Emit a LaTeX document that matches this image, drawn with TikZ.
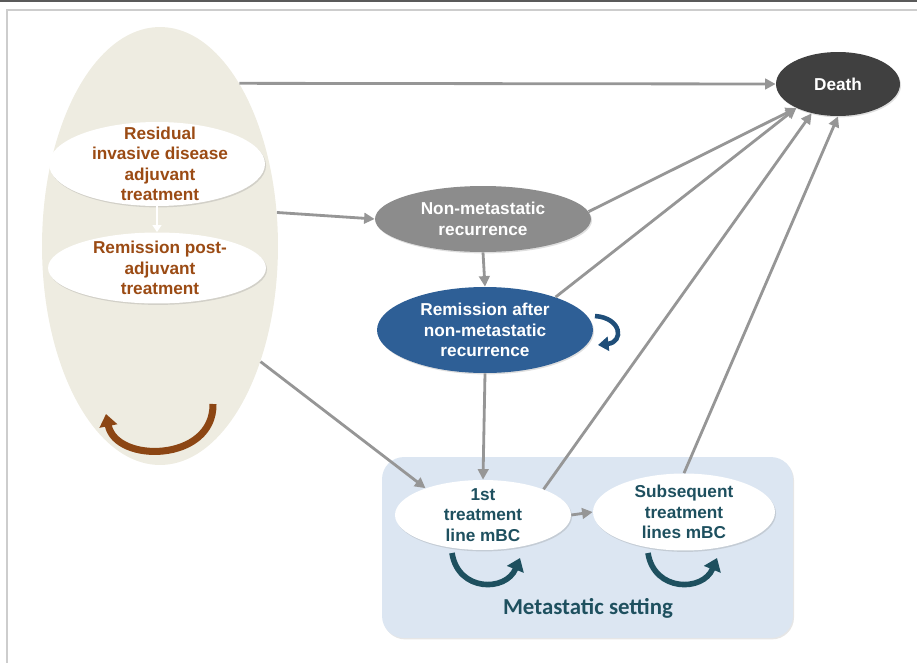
\documentclass[tikz,border=0pt]{standalone}
\usepackage{fontspec}
\setmainfont{Liberation Sans}
\newfontfamily\calfont{Carlito}
\usetikzlibrary{arrows.meta, shapes.geometric, shadows}
\definecolor{tanbg}{RGB}{238,236,225}
\definecolor{metabg}{RGB}{220,230,242}
\definecolor{resbrown}{RGB}{155,75,20}
\definecolor{arcbrown}{RGB}{140,70,20}
\definecolor{nmgray}{RGB}{140,140,140}
\definecolor{remblue}{RGB}{46,95,150}
\definecolor{arcblue}{RGB}{31,78,121}
\definecolor{deathgray}{RGB}{64,64,64}
\definecolor{metateal}{RGB}{30,80,95}
\definecolor{arrgray}{RGB}{150,150,150}
\definecolor{framedark}{RGB}{90,90,90}
\definecolor{framelight}{RGB}{205,205,205}

\begin{document}
\begin{tikzpicture}[x=0.02cm, y=-0.02cm,
  state/.style={ellipse, inner sep=0pt,
                drop shadow={opacity=0.25, shadow xshift=0.6pt, shadow yshift=-0.8pt}},
  txt/.style={font=\bfseries\fontsize{9.8}{11.6}\selectfont, align=center},
  arr/.style={-{Triangle[length=6pt,width=6pt]}, line width=1.6pt, draw=arrgray},
  selfarr/.style={line width=3.2pt, -{Triangle[length=7pt,width=10pt]}}
]
  \useasboundingbox (0,0) rectangle (917,663);
  % frame
  \draw[line width=1.2pt, framedark] (0,1) -- (917,1);
  \draw[line width=1.6pt, framelight] (7,663) -- (7,10) -- (917,10);

  % adjuvant setting
  \node[ellipse, fill=tanbg, minimum width=4.72cm, minimum height=8.76cm] (outer) at (160,246) {};
  \node[state, fill=white, minimum width=4.32cm, minimum height=1.68cm,
        label={[txt, text=resbrown, xshift=0.06cm]center:{Residual\\invasive disease\\adjuvant\\treatment}}] (resid) at (157,164) {};
  \node[state, fill=white, minimum width=4.36cm, minimum height=1.42cm,
        label={[txt, text=resbrown, xshift=0.06cm]center:{Remission post-\\adjuvant\\treatment}}] (remis) at (157,268) {};

  % metastatic setting
  \node[fill=metabg, rounded corners=0.44cm, minimum width=8.22cm, minimum height=3.62cm,
        drop shadow={opacity=0.2, shadow xshift=0.6pt, shadow yshift=-0.8pt}] (meta) at (587.5,547.5) {};
  \node[font=\calfont\bfseries\fontsize{13}{15}\selectfont, text=metateal] (metatxt) at (588,608) {Metastatic setting};
  \node[state, fill=white, minimum width=3.52cm, minimum height=1.4cm,
        label={[txt, text=metateal]center:{1st\\treatment\\line mBC}}] (first) at (483,515) {};
  \node[state, fill=white, minimum width=3.64cm, minimum height=1.54cm,
        label={[txt, text=metateal]center:{Subsequent\\treatment\\lines mBC}}] (subs) at (684,512) {};

  % other states
  \node[state, fill=deathgray, minimum width=2.48cm, minimum height=1.28cm,
        label={[txt, text=white]center:Death}] (death) at (838,84) {};
  \node[state, fill=nmgray, minimum width=4.32cm, minimum height=1.32cm,
        label={[txt, text=white]center:{Non-metastatic\\recurrence}}] (nonmet) at (483,219) {};
  \node[state, fill=remblue, minimum width=4.32cm, minimum height=1.72cm,
        label={[txt, text=white]center:{Remission after\\non-metastatic\\recurrence}}] (remnm) at (485,330) {};

  % transitions
  \draw[-{Triangle[length=4pt,width=5pt]}, line width=1pt, white] (resid.south) -- (remis.north);
  \draw[arr] (outer.64) -- (death.west);
  \draw[arr] (outer.16) -- (nonmet.west);
  \draw[arr] (outer.-49) -- (first.155);
  \draw[arr] (nonmet.south) -- (remnm.north);
  \draw[arr] (remnm.south) -- (first.north);
  \draw[arr] (nonmet.4) -- (death.210);
  \draw[arr] (remnm.25) -- (death.210);
  \draw[arr] (first.23) -- (death.228);
  \draw[arr] (subs.north) -- (death.south);
  \draw[arr] (first.east) -- (subs.west);

  % staying in the same state
  \coordinate (adjA) at (213,404);
  \coordinate (adjB) at (106,414);
  \draw[selfarr, arcbrown, line width=4pt] (adjA) .. controls (214,462) and (116,464) .. (adjB);
  \coordinate (remA) at (595,316);
  \coordinate (remB) at (598,345);
  \draw[selfarr, arcblue, line width=2.6pt, -{Triangle[length=6pt,width=8pt]}] (remA) .. controls (622,318) and (624,342) .. (remB);
  \coordinate (firstA) at (452,553);
  \coordinate (firstB) at (520,558);
  \draw[selfarr, metateal] (firstA) .. controls (458,592) and (506,592) .. (firstB);
  \coordinate (subsA) at (648,553);
  \coordinate (subsB) at (717,558);
  \draw[selfarr, metateal] (subsA) .. controls (654,592) and (703,592) .. (subsB);
\end{tikzpicture}
\end{document}
